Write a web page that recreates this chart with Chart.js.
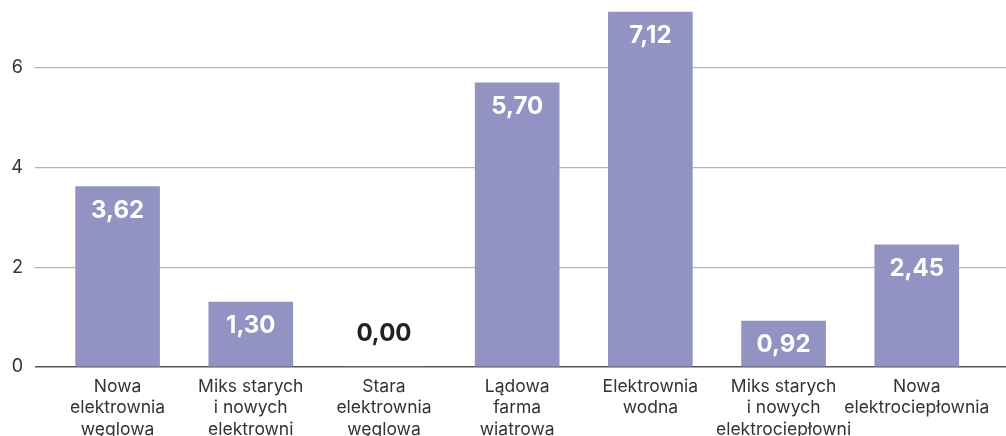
<!DOCTYPE html>
<html>
<head>
<meta charset="utf-8">
<script src="https://cdn.jsdelivr.net/npm/chart.js@4"></script>
<style>
  html, body { margin: 0; padding: 0; background: #fff; overflow: hidden; }
  #wrap { width: 1006px; height: 446px; }
</style>
</head>
<body>
<div id="wrap"><canvas id="myChart"></canvas></div>
<script>
const categories = [
  ['Nowa', 'elektrownia', 'węglowa'],
  ['Miks starych', 'i nowych', 'elektrowni'],
  ['Stara', 'elektrownia', 'węglowa'],
  ['Lądowa', 'farma', 'wiatrowa'],
  ['Elektrownia', 'wodna'],
  ['Miks starych', 'i nowych', 'elektrociepłowni'],
  ['Nowa', 'elektrociepłownia']
];

const values = [3.62, 1.30, 0.00, 5.70, 7.12, 0.92, 2.45];

const yTicks = [0, 2, 4, 6];

const barColor = '#9393c3';

const valueLabels = {
  id: 'valueLabels',
  afterDatasetsDraw(chart) {
    const ctx = chart.ctx;
    const meta = chart.getDatasetMeta(0);
    ctx.save();
    ctx.font = 'bold 24px Inter, "Liberation Sans", sans-serif';
    ctx.textAlign = 'center';
    ctx.textBaseline = 'middle';
    meta.data.forEach((bar, i) => {
      const v = values[i];
      const txt = v.toFixed(2).replace('.', ',');
      if (v === 0) {
        ctx.fillStyle = '#222';
        ctx.fillText(txt, bar.x, bar.base - 33);
      } else {
        ctx.fillStyle = '#ffffff';
        ctx.fillText(txt, bar.x, bar.y + 24);
      }
    });
    ctx.restore();
  }
};

const data = {
  datasets: [{
    data: values.map((v, i) => ({ x: i, y: v })),
    backgroundColor: barColor,
    barThickness: 84
  }]
};

const config = {
  type: 'bar',
  data: data,
  options: {
    responsive: true,
    maintainAspectRatio: false,
    animation: false,
    layout: { padding: 0 },
    plugins: {
      legend: { display: false },
      tooltip: { enabled: false }
    },
    scales: {
      x: {
        type: 'linear',
        offset: false,
        min: -0.62,
        max: 6.67,
        grid: { display: false, offset: false },
        border: { display: false },
        afterBuildTicks: (scale) => {
          scale.ticks = categories.map((_, i) => ({ value: i }));
        },
        afterFit: (scale) => {
          scale.height = 79;
          scale.paddingLeft = 0;
          scale.paddingRight = 0;
        },
        ticks: {
          autoSkip: false,
          maxRotation: 0,
          padding: 1,
          color: '#333',
          font: { family: 'Inter, "Liberation Sans", sans-serif', size: 17.5, lineHeight: 1.22 },
          callback: (v) => categories[v]
        }
      },
      y: {
        min: 0,
        max: 7.36,
        grid: {
          drawTicks: false,
          color: (c) => c.tick && c.tick.value === 0 ? '#555' : '#b4b4b4',
          lineWidth: (c) => c.tick && c.tick.value === 0 ? 1.6 : 1.2
        },
        border: { display: false },
        afterBuildTicks: (scale) => {
          scale.ticks = yTicks.map(v => ({ value: v }));
        },
        afterFit: (scale) => {
          scale.width = 35;
          scale.paddingTop = 0;
          scale.paddingBottom = 0;
        },
        ticks: {
          padding: 12,
          color: '#333',
          font: { family: 'Inter, "Liberation Sans", sans-serif', size: 18 }
        }
      }
    }
  },
  plugins: [valueLabels]
};

const myChart = new Chart(document.getElementById('myChart'), config);
</script>
</body>
</html>
